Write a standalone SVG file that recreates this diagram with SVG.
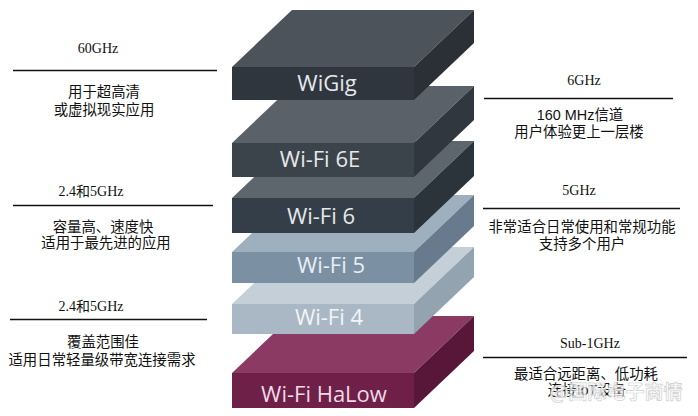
<svg xmlns="http://www.w3.org/2000/svg" width="698" height="416" viewBox="0 0 698 416">
<style>
.lab{font-family:"Open Sans","DejaVu Sans",sans-serif;font-size:22px;text-anchor:middle}
.lat{font-family:"Liberation Serif","Noto Sans CJK SC",serif;font-size:14px;fill:#111;text-anchor:middle}
.cn{font-family:"Liberation Sans","Noto Sans CJK SC",sans-serif;font-size:14.4px;fill:#111;text-anchor:middle}
.rule{stroke:#111;stroke-width:1.3}
.wm{font-family:"Noto Sans CJK SC",sans-serif;font-size:19px;font-weight:bold;fill:#ffffff;stroke:#c4c4c4;stroke-width:0.7;opacity:0.8;text-anchor:middle}
</style>
<rect width="698" height="416" fill="#ffffff"/>

<g id="halow">
<polygon points="232,373 414,373 474,316 292,316" fill="#8b3a64"/>
<polygon points="414,373 474,316 474,351 414,408" fill="#581638"/>
<rect x="232" y="373" width="182" height="35" fill="#6e2049"/>
<text class="lab" x="324" y="402" fill="#f1d9e6">Wi-Fi HaLow</text>
</g>

<g id="wifi4">
<polygon points="232,304 414,304 474,247 292,247" fill="#c4cfd8"/>
<polygon points="414,304 474,247 474,277 414,334" fill="#93a3b0"/>
<rect x="232" y="304" width="182" height="30" fill="#a9b8c4"/>
<text class="lab" x="329" y="325" fill="#f2f5f7">Wi-Fi 4</text>
</g>

<g id="wifi5">
<polygon points="232,252 414,252 474,195 292,195" fill="#9eafbe"/>
<polygon points="414,252 474,195 474,226 414,283" fill="#687b8e"/>
<rect x="232" y="252" width="182" height="31" fill="#7c90a4"/>
<text class="lab" x="331" y="273" fill="#e9eef2">Wi-Fi 5</text>
</g>

<g id="wifi6">
<polygon points="232,198 414,198 474,141 292,141" fill="#5d656d"/>
<polygon points="414,198 474,141 474,176 414,233" fill="#2b333b"/>
<rect x="232" y="198" width="182" height="35" fill="#343e48"/>
<text class="lab" x="321" y="224" fill="#e6e8ea">Wi-Fi 6</text>
</g>

<g id="wifi6e">
<polygon points="232,143 414,143 474,86 292,86" fill="#5a6168"/>
<polygon points="414,143 474,86 474,120 414,177" fill="#30373e"/>
<rect x="232" y="143" width="182" height="34" fill="#3b434b"/>
<text class="lab" x="320" y="167" fill="#e6e8ea">Wi-Fi 6E</text>
</g>

<g id="wigig">
<polygon points="232,67 414,67 474,10 292,10" fill="#4c535a"/>
<polygon points="414,67 474,10 474,43 414,100" fill="#2a3036"/>
<rect x="232" y="67" width="182" height="33" fill="#2f363e"/>
<text class="lab" x="327" y="91" fill="#e6e8ea">WiGig</text>
</g>

<g id="connectors">
<line class="rule" x1="13" y1="70.5" x2="217" y2="70.5"/>
<line class="rule" x1="13" y1="205.5" x2="213" y2="205.5"/>
<line class="rule" x1="10" y1="319.5" x2="207" y2="319.5"/>
<line class="rule" x1="484" y1="98.5" x2="673" y2="98.5"/>
<line class="rule" x1="483" y1="208.5" x2="680" y2="208.5"/>
<line class="rule" x1="483" y1="357.5" x2="687" y2="357.5"/>
</g>

<g id="note-wigig">
<text class="lat" x="98" y="53">60GHz</text>
<text class="cn" x="104" y="97">用于超高清</text>
<text class="cn" x="104" y="115">或虚拟现实应用</text>
</g>

<g id="note-wifi6">
<text class="lat" x="91" y="196">2.4和5GHz</text>
<text class="cn" x="103" y="232">容量高、速度快</text>
<text class="cn" x="106" y="248">适用于最先进的应用</text>
</g>

<g id="note-wifi4">
<text class="lat" x="91" y="311">2.4和5GHz</text>
<text class="cn" x="103" y="347">覆盖范围佳</text>
<text class="cn" x="102" y="365">适用日常轻量级带宽连接需求</text>
</g>

<g id="note-wifi6e">
<text class="lat" x="584" y="85">6GHz</text>
<text class="cn" x="580" y="120">160 MHz信道</text>
<text class="cn" x="579" y="137">用户体验更上一层楼</text>
</g>

<g id="note-wifi5">
<text class="lat" x="579" y="195">5GHz</text>
<text class="cn" x="582" y="232">非常适合日常使用和常规功能</text>
<text class="cn" x="582" y="249">支持多个用户</text>
</g>

<g id="note-halow">
<text class="lat" x="590" y="348">Sub-1GHz</text>
<text class="cn" x="586" y="379">最适合远距离、低功耗</text>
<text class="cn" x="587" y="395">连接IoT设备</text>
</g>

<text class="wm" x="616" y="399">@国际电子商情</text>
</svg>
